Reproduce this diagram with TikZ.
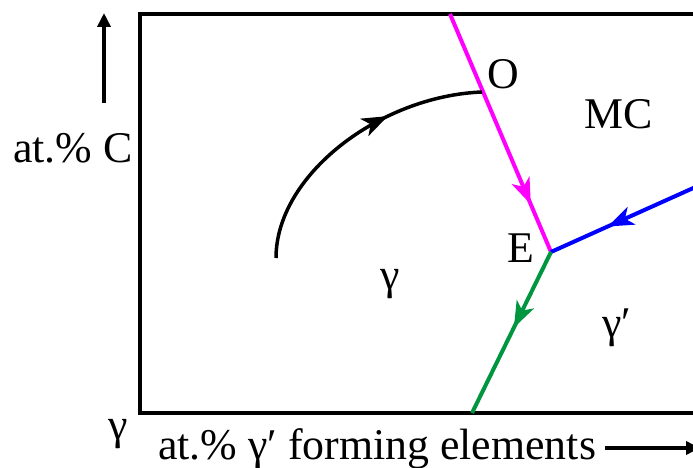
\documentclass[tikz,border=0pt]{standalone}
\usepackage{fontspec}
\setmainfont{Liberation Serif}
\usetikzlibrary{arrows.meta,decorations.markings}
\definecolor{mag}{RGB}{255,0,255}
\definecolor{blu}{RGB}{0,0,255}
\definecolor{grn}{RGB}{0,150,64}
\tikzset{
  lbl/.style={inner sep=0pt, font=\fontsize{44}{50}\selectfont},
  frame/.style={line width=3.2bp, black},
  phase/.style={line width=4bp},
  midarrow/.style={postaction={decorate}, decoration={markings, mark=at position #1 with {\arrow{Stealth[length=26bp,width=19bp,inset=7bp]}}}},
  axisarrow/.style={line width=3.5bp, -{Triangle[length=14bp,width=13bp]}}
}
\begin{document}
\begin{tikzpicture}[x=1bp,y=-1bp]
\useasboundingbox (0,0) rectangle (693,468);
\clip (0,0) rectangle (693,468);
% frame
\draw[frame] (720,14) -- (140,14) -- (140,413) -- (720,413);
% points
\coordinate (Otop) at (450,14);
\coordinate (Opt) at (482,92);
\coordinate (E) at (551,252);
\coordinate (Bend) at (700,185);
\coordinate (Gend) at (472,413);
\coordinate (Cstart) at (276,258);
% phase boundaries
\draw[phase, mag, midarrow=0.8] (Otop) -- (E);
\draw[phase, blu, midarrow=0.62] (Bend) -- (E);
\draw[phase, grn, midarrow=0.47] (E) -- (Gend);
% cooling path
\draw[line width=3.5bp, midarrow=0.66] (Cstart) .. controls (276,175) and (380,96) .. (Opt);
% labels
\node[lbl] (lO) at (503,74) {O};
\node[lbl] (lE) at (521,248) {E};
\node[lbl] (lMC) at (619,114) {MC};
\node[lbl] (lg) at (390,284) {γ};
\node[lbl] (lgp) at (617,328) {γ′};
\node[lbl] (lC) at (73,148) {at.\% C};
\node[lbl] (lg0) at (118,434) {γ};
\node[lbl] (lx) at (377,449) {at.\% γ′ forming elements};
% axis arrows
\coordinate (ya) at (104,103);
\coordinate (yb) at (104,13);
\draw[axisarrow] (ya) -- (yb);
\coordinate (xa) at (605,448);
\coordinate (xb) at (700,448);
\draw[axisarrow] (xa) -- (xb);
\end{tikzpicture}
\end{document}
